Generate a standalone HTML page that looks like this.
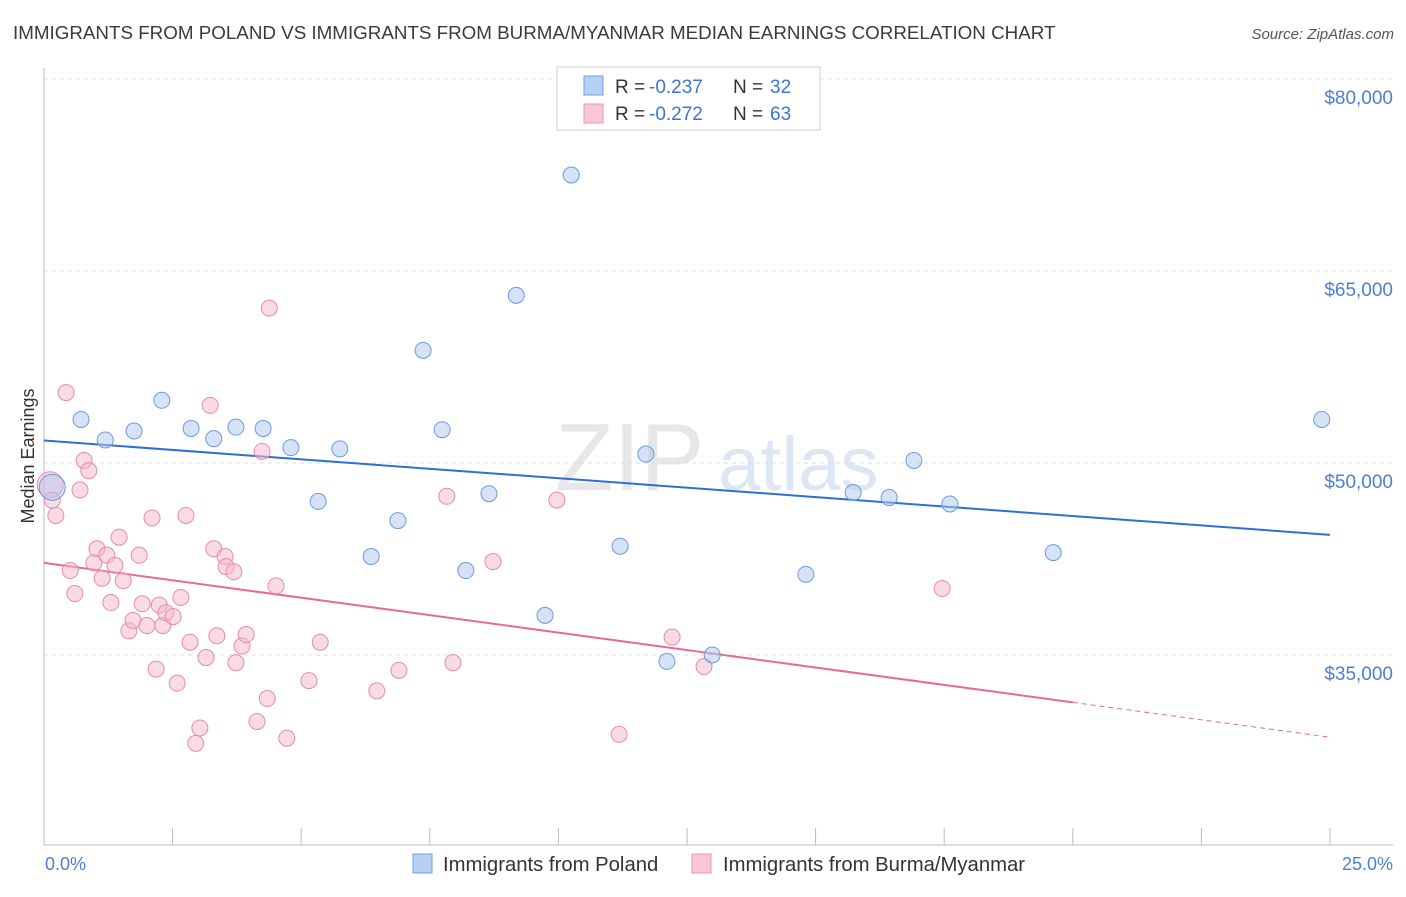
<!DOCTYPE html>
<html><head><meta charset="utf-8">
<style>
body{margin:0;background:#fff;width:1406px;height:892px;overflow:hidden;font-family:"Liberation Sans",sans-serif;}
svg text{font-family:"Liberation Sans",sans-serif;}
</style></head>
<body>
<svg id="chart" width="1406" height="892" xmlns="http://www.w3.org/2000/svg">
<text x="13" y="39" font-size="18.8" fill="#3a3a3a">IMMIGRANTS FROM POLAND VS IMMIGRANTS FROM BURMA/MYANMAR MEDIAN EARNINGS CORRELATION CHART</text>
<text x="1394" y="39" font-size="15" fill="#555" text-anchor="end" font-style="italic">Source: ZipAtlas.com</text>
<g>
<text x="555" y="490" font-size="96" fill="#d8d8d8" font-family="Liberation Serif" opacity="0.6">ZIP</text>
<text x="718" y="490" font-size="76" fill="#c6d6ee" opacity="0.6">atlas</text>
</g>
<g id="grid"></g>
<g id="axes"></g>
<g id="trends"></g>
<g id="points"></g>
<text transform="translate(34,456) rotate(-90)" font-size="18" fill="#333" text-anchor="middle">Median Earnings</text>
<text x="45" y="870" font-size="18" fill="#4a7fd4">0.0%</text>
<text x="1393" y="870" font-size="18" fill="#4a7fd4" text-anchor="end">25.0%</text>
<g>
<rect x="557" y="67" width="263" height="63" fill="#fff" stroke="#ccc"/>
<rect x="584" y="76" width="19" height="19" fill="#b7d0f4" stroke="#6f9fe0"/>
<text x="615" y="93" font-size="19" fill="#333">R =</text>
<text x="649" y="93" font-size="19" fill="#3a74d6">-0.237</text>
<text x="733" y="93" font-size="19" fill="#333">N =</text>
<text x="770" y="93" font-size="19" fill="#3a74d6">32</text>
<rect x="584" y="104" width="19" height="19" fill="#f9c6d5" stroke="#eb96b2"/>
<text x="615" y="120" font-size="19" fill="#333">R =</text>
<text x="649" y="120" font-size="19" fill="#3a74d6">-0.272</text>
<text x="733" y="120" font-size="19" fill="#333">N =</text>
<text x="770" y="120" font-size="19" fill="#3a74d6">63</text>
</g>
<g>
<rect x="413" y="854" width="19" height="19" fill="#b7d0f4" stroke="#6f9fe0"/>
<text x="443" y="871" font-size="20.3" fill="#333">Immigrants from Poland</text>
</g>
<g>
<rect x="692" y="854" width="19" height="19" fill="#f9c6d5" stroke="#eb96b2"/>
<text x="723" y="871" font-size="20.3" fill="#333">Immigrants from Burma/Myanmar</text>
</g>
</svg>
<script>
const yTicks=[35000,50000,65000,80000];
const yTickLabels=["$35,000","$50,000","$65,000","$80,000"];
const xTicks=[0,2.5,5,7.5,10,12.5,15,17.5,20,22.5,25];
const polandX=[0.16,0.72,1.19,1.75,2.29,2.86,3.30,3.73,4.26,4.80,5.33,5.75,6.36,6.88,7.37,7.74,8.20,8.65,9.18,9.74,10.25,11.20,11.70,12.11,12.99,14.81,15.73,16.43,16.91,17.61,19.62,24.84];
const polandY=[48.1,53.4,51.8,52.5,54.9,52.7,51.9,52.8,52.7,51.2,47.0,51.1,42.7,45.5,58.8,52.6,41.6,47.6,63.1,38.1,72.5,43.5,50.7,34.5,35.0,41.3,47.7,47.3,50.2,46.8,43.0,53.4];
const burmaX=[0.12,0.16,0.23,0.43,0.51,0.60,0.78,0.87,0.70,1.03,1.13,0.97,1.22,1.30,1.38,1.46,1.54,1.65,1.73,1.85,1.91,2.00,2.10,2.18,2.24,2.31,2.37,2.51,2.59,2.66,2.76,2.84,2.95,3.03,3.15,3.23,3.30,3.36,3.52,3.54,3.69,3.73,3.85,3.93,4.14,4.24,4.34,4.38,4.51,4.72,5.15,5.37,6.47,6.90,7.83,7.95,8.73,9.97,11.18,12.21,12.83,17.46];
const burmaY=[48.3,47.1,45.9,55.5,41.6,39.8,50.2,49.4,47.9,43.3,41.0,42.2,42.8,39.1,42.0,44.2,40.8,36.9,37.7,42.8,39.0,37.3,45.7,33.9,38.9,37.3,38.3,38.0,32.8,39.5,45.9,36.0,28.1,29.3,34.8,54.5,43.3,36.5,42.7,41.9,41.5,34.4,35.7,36.6,29.8,50.9,31.6,62.1,40.4,28.5,33.0,36.0,32.2,33.8,47.4,34.4,42.3,47.1,28.8,36.4,34.1,40.2];
const polandTrend=[51.76,-0.295];
const burmaTrend=[42.2,-0.545];
const burmaSolidEnd=20;
const NS="http://www.w3.org/2000/svg";
const X=v=>44+v/25*1286;
const Y=k=>79+(80-k)*12.8;
function mk(tag,at,parent){const e=document.createElementNS(NS,tag);for(const k in at)e.setAttribute(k,at[k]);parent.appendChild(e);return e;}
const grid=document.getElementById('grid'),axes=document.getElementById('axes'),tr=document.getElementById('trends'),pts=document.getElementById('points');
yTicks.forEach((t,i)=>{
 const l=mk('line',{x1:44,x2:1393,y1:Y(t/1000),y2:Y(t/1000),stroke:'#ddd','stroke-dasharray':'4,4'},grid);
 
 
 const tx=mk('text',{x:1393,y:Y(t/1000)+25,'font-size':19,fill:'#4a7fd4','text-anchor':'end'},axes);
 tx.textContent=yTickLabels[i];
 
 
});
const ya=mk('line',{x1:44,x2:44,y1:68,y2:845,stroke:'#bbb'},axes);


const xa=mk('line',{x1:44,x2:1393,y1:845,y2:845,stroke:'#bbb'},axes);


xTicks.forEach(t=>{
 const l=mk('line',{x1:X(t),x2:X(t),y1:828,y2:845,stroke:'#bbb'},axes);
 
 
});
const pl=mk('line',{x1:X(0),y1:Y(polandTrend[0]),x2:X(25),y2:Y(polandTrend[0]+polandTrend[1]*25),stroke:'#2e6fd6','stroke-width':2},tr);


const bl=mk('line',{x1:X(0),y1:Y(burmaTrend[0]),x2:X(burmaSolidEnd),y2:Y(burmaTrend[0]+burmaTrend[1]*burmaSolidEnd),stroke:'#e8689a','stroke-width':2},tr);


const bd=mk('line',{x1:X(burmaSolidEnd),y1:Y(burmaTrend[0]+burmaTrend[1]*burmaSolidEnd),x2:X(25),y2:Y(burmaTrend[0]+burmaTrend[1]*25),stroke:'#e8689a','stroke-width':1,'stroke-dasharray':'5,4'},tr);


burmaX.forEach((x,i)=>{
 const c=mk('circle',{cx:X(x),cy:Y(burmaY[i]),r:i===0?13:8,fill:'#f6b8cb','fill-opacity':0.5,stroke:'#e88aa8','stroke-width':1},pts);
 
 
});
polandX.forEach((x,i)=>{
 const c=mk('circle',{cx:X(x),cy:Y(polandY[i]),r:i===0?13:8,fill:'#aec8ee','fill-opacity':0.5,stroke:'#6a9be0','stroke-width':1},pts);
 
 
});
</script>
</body></html>
